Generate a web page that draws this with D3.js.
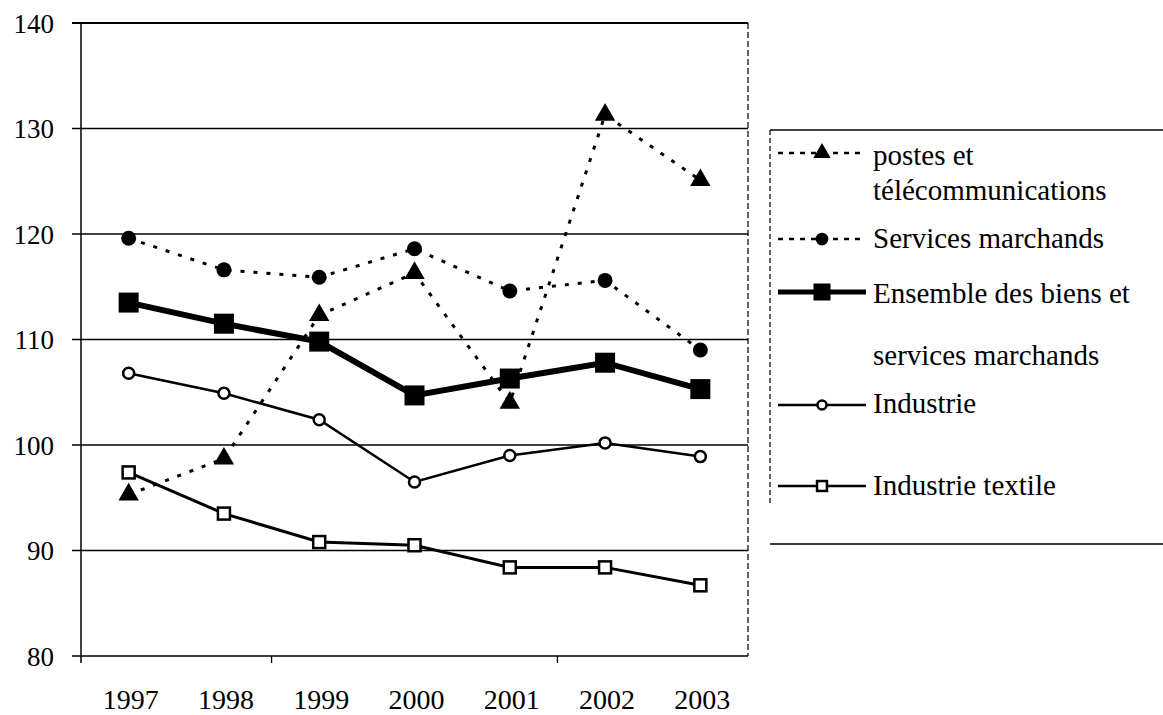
<!DOCTYPE html>
<html>
<head>
<meta charset="utf-8">
<title>Indices 1997-2003</title>
<script src="https://cdn.jsdelivr.net/npm/d3@7"></script>
<style>
  body { margin: 0; background: #fff; }
  svg text { fill: #000; font-family: "Liberation Serif", "Times New Roman", "Liberation Sans", sans-serif; }
</style>
</head>
<body>
<svg id="chart" width="1163" height="715"></svg>
<script>
// data
var years = ["1997", "1998", "1999", "2000", "2001", "2002", "2003"];
var yTicks = [80, 90, 100, 110, 120, 130, 140];

var postes = [95.3, 98.7, 112.3, 116.3, 104.0, 131.3, 125.1];
var servicesMarchands = [119.6, 116.6, 115.9, 118.6, 114.6, 115.6, 109.0];
var ensemble = [113.5, 111.5, 109.8, 104.7, 106.3, 107.8, 105.3];
var industrie = [106.8, 104.9, 102.4, 96.5, 99.0, 100.2, 98.9];
var textile = [97.4, 93.5, 90.8, 90.5, 88.4, 88.4, 86.7];

var series = [
  { name: ["postes et", "télécommunications"], values: postes, marker: "triangle", dash: "4,9", width: 3, size: 20, fill: "#000" },
  { name: ["Services marchands"], values: servicesMarchands, marker: "circle", dash: "4,9", width: 3, size: 15, fill: "#000" },
  { name: ["Ensemble des biens et", "services marchands"], values: ensemble, marker: "square", dash: null, width: 6, size: 20, fill: "#000" },
  { name: ["Industrie"], values: industrie, marker: "circle", dash: null, width: 2.5, size: 13, fill: "#fff" },
  { name: ["Industrie textile"], values: textile, marker: "square", dash: null, width: 3, size: 14, fill: "#fff" }
];

var svg = d3.select("#chart");
var pLeft = 81, pRight = 748, pTop = 23, pBottom = 656;

var x = d3.scaleBand().domain(years).range([pLeft, pRight]);
var y = d3.scaleLinear().domain([80, 140]).range([pBottom, pTop]);
var cx = function(i) { return x(years[i]) + x.bandwidth() / 2; };

// grid lines
svg.append("g").selectAll("line")
  .data(yTicks)
  .enter().append("line")
  .attr("x1", pLeft - 9).attr("x2", pRight)
  .attr("y1", d => y(d)).attr("y2", d => y(d))
  .attr("stroke", "#000").attr("stroke-width", d => d == 140 ? 2 : 1.3);

// frame
svg.append("line").attr("x1", pLeft).attr("x2", pLeft).attr("y1", pTop).attr("y2", pBottom + 7)
  .attr("stroke", "#000").attr("stroke-width", 1.5);
svg.append("line").attr("x1", pRight).attr("x2", pRight).attr("y1", pTop).attr("y2", pBottom)
  .attr("stroke", "#000").attr("stroke-width", 1.2).attr("stroke-dasharray", "6,3");

// y axis labels
var yAxis = svg.append("g")
  .attr("transform", "translate(" + pLeft + ",0)")
  .call(d3.axisLeft(y).tickValues(yTicks).tickSize(0).tickPadding(27));
yAxis.select(".domain").remove();
yAxis.attr("font-family", null);
yAxis.selectAll("text").style("font-size", "27px").attr("dy", "0.34em");

// x axis labels
var xAxis = svg.append("g")
  .attr("transform", "translate(0," + pBottom + ")")
  .call(d3.axisBottom(x).tickSize(0).tickPadding(33));
xAxis.select(".domain").remove();
xAxis.attr("font-family", null);
xAxis.selectAll("text").style("font-size", "28px").attr("dx", "2");
// small ticks on the bottom axis
svg.append("g").selectAll("line")
  .data(["1999", "2002"])
  .enter().append("line")
  .attr("x1", d => x(d)).attr("x2", d => x(d))
  .attr("y1", pBottom).attr("y2", pBottom + 7)
  .attr("stroke", "#000").attr("stroke-width", 1.3);

function drawMarker(g, type, px, py, s, fill) {
  if (type == "triangle") {
    g.append("path")
      .attr("d", d3.symbol().type(d3.symbolTriangle).size(s * s * 0.45)())
      .attr("transform", "translate(" + px + "," + py + ")")
      .attr("fill", "#000");
  } else if (type == "circle") {
    g.append("circle").attr("cx", px).attr("cy", py).attr("r", s / 2 - (fill == "#fff" ? 1 : 0))
      .attr("fill", fill).attr("stroke", "#000").attr("stroke-width", fill == "#fff" ? 2.5 : 0);
  } else {
    var h = fill == "#fff" ? s - 2 : s;
    g.append("rect").attr("x", px - h / 2).attr("y", py - h / 2).attr("width", h).attr("height", h)
      .attr("fill", fill).attr("stroke", "#000").attr("stroke-width", fill == "#fff" ? 2.5 : 0);
  }
}

var line = d3.line().x((d, i) => cx(i)).y(d => y(d));

series.forEach(function(s) {
  var g = svg.append("g");
  g.append("path")
    .attr("d", line(s.values))
    .attr("fill", "none").attr("stroke", "#000")
    .attr("stroke-width", s.width)
    .attr("stroke-dasharray", s.dash);
  s.values.forEach(function(v, i) { drawMarker(g, s.marker, cx(i), y(v), s.size, s.fill); });
});

// legend
var lg = svg.append("g");
lg.append("line").attr("x1", 770).attr("x2", 1163).attr("y1", 130).attr("y2", 130)
  .attr("stroke", "#000").attr("stroke-width", 1.5);
lg.append("line").attr("x1", 770).attr("x2", 1163).attr("y1", 544).attr("y2", 544)
  .attr("stroke", "#000").attr("stroke-width", 1.3);
lg.append("line").attr("x1", 770).attr("x2", 770).attr("y1", 130).attr("y2", 504)
  .attr("stroke", "#000").attr("stroke-width", 1.2).attr("stroke-dasharray", "5,3");

var legendY = [153, 239, 292, 405, 486];
var textY = [[165, 200], [248], [303, 365], [413], [495]];
series.forEach(function(s, k) {
  var yy = legendY[k];
  lg.append("line").attr("x1", 778).attr("x2", 866).attr("y1", yy).attr("y2", yy)
    .attr("stroke", "#000").attr("stroke-width", s.width == 6 ? 5 : 2.5)
    .attr("stroke-dasharray", s.dash ? "5,6" : null);
  drawMarker(lg, s.marker, 822, yy, s.size * 0.85, s.fill);
  s.name.forEach(function(t, j) {
    lg.append("text").attr("x", 873).attr("y", textY[k][j])
      .style("font-size", "29px").text(t);
  });
});
</script>
</body>
</html>
